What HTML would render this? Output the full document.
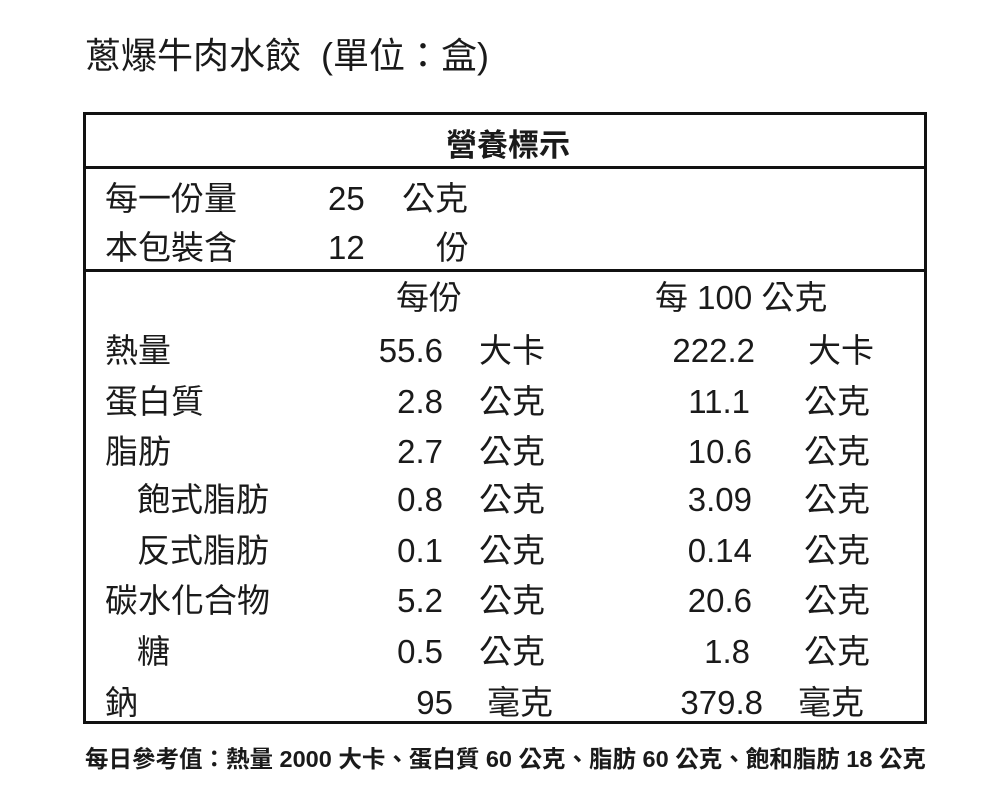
<!DOCTYPE html>
<html><head><meta charset="utf-8"><style>
body{margin:0;width:1000px;height:800px;background:#fff;position:relative;font-family:"Liberation Sans","Noto Sans CJK TC",sans-serif;color:#1a1a1a;overflow:hidden}
.t{position:absolute;font-size:33px;line-height:40px;white-space:nowrap}
.r{text-align:right}
.box{position:absolute;left:83px;top:112px;width:838px;height:606px;border:3px solid #111}
.hl{position:absolute;left:83px;width:844px;height:3px;background:#111}
</style></head><body>
<div class="t" style="left:85px;top:36px;font-size:36px;">蔥爆牛肉水餃&nbsp; (單位：盒)</div>
<div class="box"></div>
<div class="hl" style="top:166px"></div>
<div class="hl" style="top:269px"></div>
<div class="t" style="left:0;width:1016px;text-align:center;top:126px;font-weight:bold;font-size:31px">營養標示</div>

<div class="t" style="left:105px;top:179px">每一份量</div>
<div class="t" style="left:328px;top:179px">25</div>
<div class="t" style="left:402px;top:179px">公克</div>
<div class="t" style="left:436px;top:228px">份</div>
<div class="t" style="left:105px;top:228px">本包裝含</div>
<div class="t" style="left:328px;top:228px">12</div>

<div class="t" style="left:396px;top:278px">每份</div>
<div class="t" style="left:655px;top:278px">每 100 公克</div>

<div class="t" style="left:105px;top:331px">熱量</div>
<div class="t" style="left:105px;top:382px">蛋白質</div>
<div class="t" style="left:105px;top:432px">脂肪</div>
<div class="t" style="left:137px;top:480px">飽式脂肪</div>
<div class="t" style="left:137px;top:531px">反式脂肪</div>
<div class="t" style="left:105px;top:581px">碳水化合物</div>
<div class="t" style="left:137px;top:632px">糖</div>
<div class="t" style="left:105px;top:683px">鈉</div>

<div class="t r" style="left:300px;width:143px;top:331px">55.6</div>
<div class="t r" style="left:300px;width:143px;top:382px">2.8</div>
<div class="t r" style="left:300px;width:143px;top:432px">2.7</div>
<div class="t r" style="left:300px;width:143px;top:480px">0.8</div>
<div class="t r" style="left:300px;width:143px;top:531px">0.1</div>
<div class="t r" style="left:300px;width:143px;top:581px">5.2</div>
<div class="t r" style="left:300px;width:143px;top:632px">0.5</div>
<div class="t r" style="left:300px;width:153px;top:683px">95</div>

<div class="t" style="left:479px;top:331px">大卡</div>
<div class="t" style="left:479px;top:382px">公克</div>
<div class="t" style="left:479px;top:432px">公克</div>
<div class="t" style="left:479px;top:480px">公克</div>
<div class="t" style="left:479px;top:531px">公克</div>
<div class="t" style="left:479px;top:581px">公克</div>
<div class="t" style="left:479px;top:632px">公克</div>
<div class="t" style="left:487px;top:683px">毫克</div>

<div class="t r" style="left:600px;width:155px;top:331px">222.2</div>
<div class="t r" style="left:600px;width:150px;top:382px">11.1</div>
<div class="t r" style="left:600px;width:152px;top:432px">10.6</div>
<div class="t r" style="left:600px;width:152px;top:480px">3.09</div>
<div class="t r" style="left:600px;width:152px;top:531px">0.14</div>
<div class="t r" style="left:600px;width:152px;top:581px">20.6</div>
<div class="t r" style="left:600px;width:150px;top:632px">1.8</div>
<div class="t r" style="left:600px;width:163px;top:683px">379.8</div>

<div class="t" style="left:808px;top:331px">大卡</div>
<div class="t" style="left:804px;top:382px">公克</div>
<div class="t" style="left:804px;top:432px">公克</div>
<div class="t" style="left:804px;top:480px">公克</div>
<div class="t" style="left:804px;top:531px">公克</div>
<div class="t" style="left:804px;top:581px">公克</div>
<div class="t" style="left:804px;top:632px">公克</div>
<div class="t" style="left:798px;top:683px">毫克</div>

<div class="t" style="left:85px;top:744px;font-size:23.5px;line-height:30px;font-weight:bold">每日參考值：熱量 2000 大卡、蛋白質 60 公克、脂肪 60 公克、飽和脂肪 18 公克</div>
</body></html>
